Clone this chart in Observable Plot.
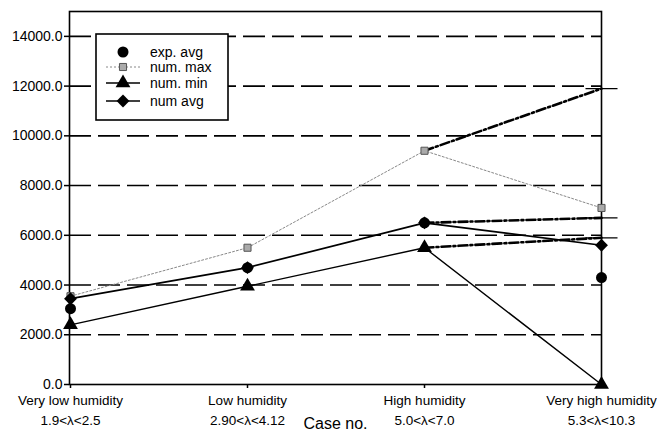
<!DOCTYPE html>
<html>
<head>
<meta charset="utf-8">
<script src="https://cdn.jsdelivr.net/npm/d3@7"></script>
<script src="https://cdn.jsdelivr.net/npm/@observablehq/plot@0.6"></script>
<style>
  html, body { margin: 0; padding: 0; background: #fff; }
</style>
</head>
<body>
<div id="chart"></div>
<script>
// ---- data ----
const categories = [
  "Very low humidity\n1.9<λ<2.5",
  "Low humidity\n2.90<λ<4.12",
  "High humidity\n5.0<λ<7.0",
  "Very high humidity\n5.3<λ<10.3"
];
const expAvg = [3050, 4700, 6500, 4300];
const numMax = [3550, 5500, 9400, 7100];
const numMin = [2400, 3950, 5500, 0];
const numAvg = [3450, 4700, 6500, 5600];
// dash-dot extensions between the last two cases
const altCategories = [categories[2], categories[3]];
const altMax = [9400, 11900];
const altAvg = [6500, 6700];
const altMin = [5500, 5900];
const yTicks = [0, 2000, 4000, 6000, 8000, 10000, 12000, 14000];
const legendLabels = ["exp. avg", "num. max", "num. min", "num avg"];

const toRows = (cats, vals) => cats.map((c, i) => ({c, v: vals[i]}));
const expRows = toRows(categories, expAvg);
const maxRows = toRows(categories, numMax);
const minRows = toRows(categories, numMin);
const avgRows = toRows(categories, numAvg);
const altMaxRows = toRows(altCategories, altMax);
const altAvgRows = toRows(altCategories, altAvg);
const altMinRows = toRows(altCategories, altMin);
const stubRows = [altMaxRows[1], altAvgRows[1], altMinRows[1]];

const stub = { draw(ctx, size) { ctx.moveTo(-16, 0); ctx.lineTo(16, 0); } };
const dashDot = "9,3,2,3";

const chart = Plot.plot({
  width: 657,
  height: 436,
  marginLeft: 69,
  marginRight: 56,
  marginTop: 11,
  marginBottom: 52,
  style: {fontFamily: "'Liberation Sans', Arial, sans-serif", fontSize: "14px", color: "#000", background: "#fff", overflow: "visible"},
  x: {type: "point", domain: categories, padding: 0, label: null},
  y: {domain: [0, 15000], label: null},
  marks: [
    Plot.gridY(yTicks.filter(d => d > 0), {stroke: "#000", strokeOpacity: 1, strokeWidth: 1.6, strokeDasharray: "22,7"}),
    Plot.frame({stroke: "#000", strokeWidth: 1.6}),
    Plot.axisY({ticks: yTicks, tickFormat: d => d.toFixed(1), tickSize: 5, tickPadding: 2, fontSize: 14, label: null, strokeWidth: 1.5}),
    Plot.axisX({tickSize: 4, tickPadding: 3, fontSize: 13.5, lineHeight: 1.45, label: null, strokeWidth: 1.5}),
    Plot.text(["Case no."], {text: d => d, frameAnchor: "bottom", dy: 39, fontSize: 16, lineAnchor: "middle"}),
    Plot.line(maxRows, {x: "c", y: "v", stroke: "#888", strokeWidth: 1, strokeDasharray: "2,2"}),
    Plot.line(minRows, {x: "c", y: "v", stroke: "#000", strokeWidth: 1.4}),
    Plot.line(avgRows, {x: "c", y: "v", stroke: "#000", strokeWidth: 1.7}),
    Plot.line(altMaxRows, {x: "c", y: "v", stroke: "#000", strokeWidth: 2.6, strokeDasharray: dashDot}),
    Plot.line(altAvgRows, {x: "c", y: "v", stroke: "#000", strokeWidth: 2.6, strokeDasharray: dashDot}),
    Plot.line(altMinRows, {x: "c", y: "v", stroke: "#000", strokeWidth: 2.6, strokeDasharray: dashDot}),
    Plot.dot(stubRows, {x: "c", y: "v", symbol: stub, r: 5, stroke: "#000", strokeWidth: 1.3}),
    Plot.dot(maxRows, {x: "c", y: "v", symbol: "square", r: 4, fill: "#aaa", stroke: "#555", strokeWidth: 1}),
    Plot.dot(expRows, {x: "c", y: "v", symbol: "circle", r: 5.5, fill: "#000"}),
    Plot.dot(minRows, {x: "c", y: "v", symbol: "triangle", r: 5.5, fill: "#000"}),
    Plot.dot(avgRows, {x: "c", y: "v", symbol: "diamond2", r: 5.8, fill: "#000"})
  ]
});
document.getElementById("chart").appendChild(chart);

// ---- legend box drawn inside the plot area (top-left) ----
const svg = d3.select(chart);
const lg = svg.append("g").attr("transform", "translate(96,34)");
lg.append("rect").attr("width", 132).attr("height", 86)
  .attr("fill", "#fff").attr("stroke", "#000").attr("stroke-width", 1.6);
const rowY = [18, 33, 49, 67];
const styles = [
  {sym: d3.symbolCircle, size: Math.PI * 5.5 * 5.5, fill: "#000", stroke: "none", line: null},
  {sym: d3.symbolSquare, size: Math.PI * 16, fill: "#aaa", stroke: "#555", line: {stroke: "#888", w: 1, dash: "2,2"}},
  {sym: d3.symbolTriangle, size: Math.PI * 5.5 * 5.5, fill: "#000", stroke: "none", line: {stroke: "#000", w: 1.4, dash: null}},
  {sym: d3.symbolDiamond2, size: Math.PI * 5.8 * 5.8, fill: "#000", stroke: "none", line: {stroke: "#000", w: 1.7, dash: null}}
];
legendLabels.forEach((lab, i) => {
  const s = styles[i];
  const y = rowY[i];
  if (s.line) {
    const l = lg.append("line").attr("x1", 10).attr("x2", 44).attr("y1", y).attr("y2", y)
      .attr("stroke", s.line.stroke).attr("stroke-width", s.line.w);
    if (s.line.dash) l.attr("stroke-dasharray", s.line.dash);
  }
  lg.append("path").attr("d", d3.symbol(s.sym, s.size)())
    .attr("transform", `translate(27,${y})`)
    .attr("fill", s.fill).attr("stroke", s.stroke);
  lg.append("text").attr("x", 54).attr("y", y).attr("dy", "0.35em")
    .attr("text-anchor", "start")
    .attr("font-size", 14).attr("fill", "#000").text(lab);
});
</script>
</body>
</html>
